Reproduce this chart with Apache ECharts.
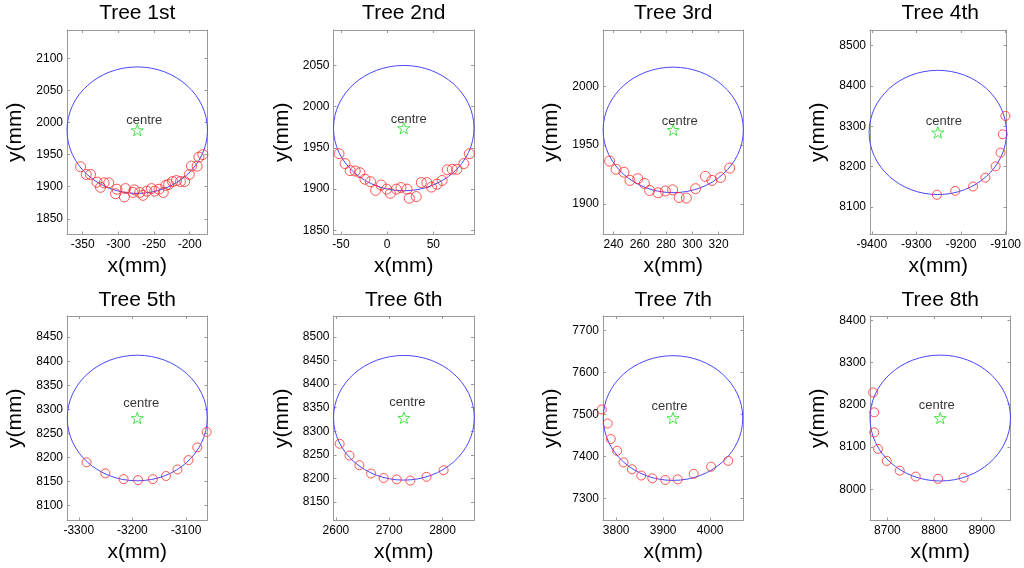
<!DOCTYPE html>
<html>
<head>
<meta charset="utf-8">
<script src="https://cdn.jsdelivr.net/npm/echarts@6/dist/echarts.min.js"></script>
<style>
html, body { margin: 0; padding: 0; background: #fff; }
#chart { width: 1024px; height: 568px; }
</style>
</head>
<body>
<div id="chart"></div>
<script>
// ---- data ----
const titles = ['Tree 1st', 'Tree 2nd', 'Tree 3rd', 'Tree 4th', 'Tree 5th', 'Tree 6th', 'Tree 7th', 'Tree 8th'];

const xLimits = [[-372, -175], [-58, 94], [232, 339], [-9404, -9098], [-3322, -3060], [2595.5, 2859], [3772, 4071], [8663, 8961]];
const yLimits = [[1825.5, 2144], [1845, 2093], [1874, 2048], [8032, 8539], [8069, 8494], [8111, 8544], [7247, 7734], [7926, 8410]];

const xTicks = [
    [-350, -300, -250, -200],
    [-50, 0, 50],
    [240, 260, 280, 300, 320],
    [-9400, -9300, -9200, -9100],
    [-3300, -3200, -3100],
    [2600, 2700, 2800],
    [3800, 3900, 4000],
    [8700, 8800, 8900]
];
const yTicks = [
    [1850, 1900, 1950, 2000, 2050, 2100],
    [1850, 1900, 1950, 2000, 2050],
    [1900, 1950, 2000],
    [8100, 8200, 8300, 8400, 8500],
    [8100, 8150, 8200, 8250, 8300, 8350, 8400, 8450],
    [8150, 8200, 8250, 8300, 8350, 8400, 8450, 8500],
    [7300, 7400, 7500, 7600, 7700],
    [8000, 8100, 8200, 8300, 8400]
];

// fitted centre of each trunk and radius of the fitted circle (mm)
const centres = [[-273.5, 1988], [18, 1974], [285.5, 1963], [-9252, 8285], [-3191, 8282], [2727.5, 8328.5], [3921, 7491], [8812, 8168.5]];
const radii = [98.5, 76, 53.4, 154, 130.5, 132, 148.5, 149];

// measured stem points
const tree1 = [[-353, 1931], [-345, 1919], [-339, 1919], [-330, 1907], [-325, 1899], [-320, 1906], [-313.5, 1906],
    [-304, 1889], [-302, 1896], [-291.5, 1884], [-290, 1897], [-279.5, 1891], [-277.5, 1895], [-270, 1891],
    [-265.5, 1886.5], [-260, 1893], [-253.5, 1897], [-249, 1893], [-243, 1896], [-237, 1891], [-233.5, 1902],
    [-229.5, 1903.5], [-224, 1908], [-218.5, 1909.5], [-213, 1908], [-207, 1908], [-200.5, 1919], [-197.5, 1932],
    [-189.5, 1932], [-187, 1946], [-181.5, 1950]];
const tree2 = [[-52, 1943], [-45.5, 1931], [-40, 1922.5], [-34.5, 1922], [-29.5, 1920], [-24, 1912], [-18, 1909],
    [-12.5, 1898.5], [-6.5, 1905], [-0.5, 1900], [3.5, 1895], [10, 1900], [15, 1902], [21.5, 1900], [24, 1889],
    [31.5, 1891], [37, 1908], [43, 1908], [48, 1902.5], [54, 1906], [59.5, 1910.5], [65, 1923.5], [70.5, 1924],
    [75.5, 1924], [83, 1931], [89, 1943]];
const tree3 = [[237, 1936.5], [242, 1929.5], [248, 1927], [252.5, 1920], [258.5, 1921.5], [263.5, 1917.5],
    [267.5, 1911.5], [274, 1909.5], [279.5, 1911], [285, 1912], [290, 1905.5], [295.5, 1905], [302.5, 1913],
    [310, 1923.5], [315, 1920], [321.5, 1922.5], [328.5, 1930.5]];
const tree4 = [[-9254, 8130.5], [-9213, 8140], [-9173, 8151], [-9145.5, 8173], [-9122.5, 8201], [-9111.5, 8235],
    [-9106.5, 8280.5], [-9100.5, 8326]];
const tree5 = [[-3285.5, 8190], [-3250.5, 8167], [-3216.5, 8155], [-3189.5, 8153], [-3162, 8155], [-3137.5, 8161.5],
    [-3116, 8175], [-3095.5, 8194.5], [-3079, 8221], [-3061.5, 8253]];
const tree6 = [[2607, 8273.5], [2625.5, 8248.5], [2644, 8228], [2666, 8210.5], [2689.5, 8201], [2714, 8198],
    [2739.5, 8195.5], [2770, 8203.5], [2802, 8217.5]];
const tree7 = [[3769.5, 7511.5], [3782, 7478], [3788.5, 7441], [3802, 7413], [3815.5, 7385.5], [3833.5, 7369],
    [3853.5, 7354], [3877, 7347.5], [3904.5, 7343.5], [3931, 7345], [3965, 7358], [4002, 7375], [4038.5, 7389]];
const tree8 = [[8669.5, 8229], [8672, 8182], [8672, 8134.5], [8680, 8095.5], [8698.5, 8067], [8726, 8044],
    [8760, 8030], [8807.5, 8024.5], [8861.5, 8027.5]];
const points = [tree1, tree2, tree3, tree4, tree5, tree6, tree7, tree8];

// ---- layout ----
const colLeft = [67, 333.5, 603, 870];
const rowTop = [30, 316];
const titleTop = [3, 290];
const plotW = 140.5;
const plotH = 204.5;
// pixel nudge of the "centre" caption relative to the star
const captionOffset = [[7, -9.5], [5, -8.5], [6.5, -8.5], [6, -11.5], [4, -14.5], [3.5, -15], [-3.5, -12], [-3.5, -12.5]];

const font = 'Liberation Sans, Arial, Helvetica, sans-serif';
const frame = '#9a9a9a';
const starPath = 'path://M50 0 L61.76 33.82 L97.55 34.55 L69.02 56.18 L79.39 90.45 L50 70 L20.61 90.45 L30.98 56.18 L2.45 34.55 L38.24 33.82 Z';

const grid = [], xAxis = [], yAxis = [], title = [], series = [];

function axis (i, min, max, ticks, position, labelled) {
    return {
        type: 'value',
        gridIndex: i,
        position: position,
        min: min,
        max: max,
        axisLine: { show: true, onZero: false, lineStyle: { color: frame, width: 1 } },
        axisTick: { show: true, inside: true, length: 3, customValues: ticks, lineStyle: { color: frame, width: 1 } },
        axisLabel: {
            show: labelled,
            customValues: ticks,
            formatter: v => String(v),
            color: '#000',
            fontSize: 12,
            fontFamily: font,
            margin: 4
        },
        splitLine: { show: false }
    };
}

titles.forEach((t, i) => {
    const row = Math.floor(i / 4);
    const left = colLeft[i % 4];
    const top = rowTop[row];

    grid.push({ left: left, top: top, width: plotW, height: plotH });

    title.push({
        text: t,
        left: left + plotW / 2,
        top: titleTop[row],
        textAlign: 'center',
        padding: 0,
        textStyle: { fontFamily: font, fontSize: 21, fontWeight: 'normal', color: '#000' }
    });

    const xb = axis(i, xLimits[i][0], xLimits[i][1], xTicks[i], 'bottom', true);
    xb.name = 'x(mm)';
    xb.nameLocation = 'middle';
    xb.nameGap = 21;
    xb.nameTextStyle = { fontFamily: font, fontSize: 21, color: '#000' };
    xAxis.push(xb, axis(i, xLimits[i][0], xLimits[i][1], xTicks[i], 'top', false));

    const yl = axis(i, yLimits[i][0], yLimits[i][1], yTicks[i], 'left', true);
    yl.name = 'y(mm)';
    yl.nameLocation = 'middle';
    yl.nameGap = 41;
    yl.nameTextStyle = { fontFamily: font, fontSize: 21, color: '#000' };
    yAxis.push(yl, axis(i, yLimits[i][0], yLimits[i][1], yTicks[i], 'right', false));

    // fitted circle
    series.push({
        type: 'custom',
        xAxisIndex: 2 * i,
        yAxisIndex: 2 * i,
        silent: true,
        data: [[centres[i][0], centres[i][1], radii[i]]],
        renderItem: (params, api) => {
            const c = api.coord([api.value(0), api.value(1)]);
            const s = api.size([api.value(2), api.value(2)]);
            return {
                type: 'ellipse',
                shape: { cx: c[0], cy: c[1], rx: s[0], ry: s[1] },
                style: { fill: 'none', stroke: '#4848ff', lineWidth: 1 }
            };
        }
    });

    // measured points
    series.push({
        type: 'scatter',
        xAxisIndex: 2 * i,
        yAxisIndex: 2 * i,
        silent: true,
        clip: false,
        data: points[i],
        symbol: 'circle',
        symbolSize: i < 3 ? 10 : 9,
        itemStyle: { color: 'rgba(0,0,0,0)', borderColor: '#ff2a2a', borderWidth: 1 }
    });

    // centre star
    series.push({
        type: 'scatter',
        xAxisIndex: 2 * i,
        yAxisIndex: 2 * i,
        silent: true,
        data: [centres[i]],
        symbol: starPath,
        symbolSize: 12,
        symbolKeepAspect: true,
        itemStyle: { color: 'rgba(0,0,0,0)', borderColor: '#1ee01e', borderWidth: 1 },
        label: {
            show: true,
            formatter: 'centre',
            position: 'inside',
            offset: captionOffset[i],
            color: '#000',
            fontSize: 13,
            fontFamily: font,
            textBorderWidth: 0
        }
    });
});

const chart = echarts.init(document.getElementById('chart'));
chart.setOption({
    animation: false,
    backgroundColor: '#fff',
    title: title,
    grid: grid,
    xAxis: xAxis,
    yAxis: yAxis,
    series: series
});
</script>
</body>
</html>
